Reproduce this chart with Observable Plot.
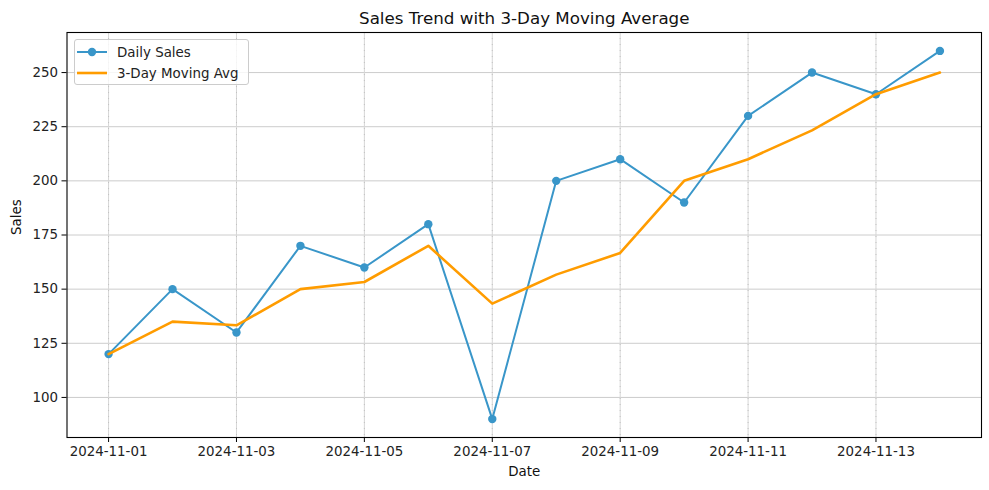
<!DOCTYPE html>
<html><head><meta charset="utf-8">
<script src="https://cdn.jsdelivr.net/npm/d3@7"></script>
<script src="https://cdn.jsdelivr.net/npm/@observablehq/plot@0.6"></script>
<style>
body{margin:0;background:#fff;font-family:"DejaVu Sans",sans-serif;}
#wrap{position:relative;width:989px;height:490px;}
#legend{position:absolute;left:74px;top:39px;width:175px;height:46px;border:1px solid #cccccc;border-radius:3px;background:rgba(255,255,255,0.8);font-size:13.4px;color:#222;box-sizing:border-box;}
#legend .row{position:absolute;left:0;height:20px;display:flex;align-items:center;}
#legend svg{margin-left:2px;margin-right:10px;}
</style></head>
<body><div id="wrap"><div id="chart"></div><div id="legend"></div></div>
<script>
const dates = ["2024-11-01","2024-11-02","2024-11-03","2024-11-04","2024-11-05","2024-11-06","2024-11-07","2024-11-08","2024-11-09","2024-11-10","2024-11-11","2024-11-12","2024-11-13","2024-11-14"];
const dailySales = [120,150,130,170,160,180,90,200,210,190,230,250,240,260];
const movingAvg = [120,135,133.3,150,153.3,170,143.3,156.7,166.7,200,210,223.3,240,250];
const xTicks = ["2024-11-01","2024-11-03","2024-11-05","2024-11-07","2024-11-09","2024-11-11","2024-11-13"];
const yTicks = [100,125,150,175,200,225,250];
const seriesNames = ["Daily Sales","3-Day Moving Avg"];
const blue = "#3996c9", orange = "#ff9c00";

const parse = d3.utcParse("%Y-%m-%d");
const data = dates.map((d,i)=>({date:parse(d), sales:dailySales[i], avg:movingAvg[i]}));
const xt = xTicks.map(parse);
const x0 = parse(dates[0]), x1 = parse(dates[dates.length-1]);
const pad = (x1-x0)*0.05;
const ymin = d3.min(dailySales), ymax = d3.max(dailySales), yp=(ymax-ymin)*0.05;

const plot = Plot.plot({
  width:989, height:490,
  marginLeft:66.5, marginRight:8, marginTop:32, marginBottom:53,
  style:{fontFamily:"DejaVu Sans, sans-serif", fontSize:"13.4px", color:"#222", background:"#fff"},
  x:{type:"utc", domain:[new Date(+x0-pad), new Date(+x1+pad)]},
  y:{domain:[ymin-yp, ymax+yp]},
  marks:[
    Plot.gridY(yTicks,{stroke:"#cccccc", strokeOpacity:1, strokeWidth:1}),
    Plot.gridX(xt,{stroke:"#d6d6d6", strokeOpacity:1, strokeWidth:1}),
    Plot.gridX(xt,{stroke:"#c2c2c2", strokeOpacity:1, strokeWidth:1, strokeDasharray:"1,5"}),
    Plot.line(data,{x:"date", y:"sales", stroke:blue, strokeWidth:2}),
    Plot.dot(data,{x:"date", y:"sales", fill:blue, r:4.2, stroke:null}),
    Plot.line(data,{x:"date", y:"avg", stroke:orange, strokeWidth:2.6}),
    Plot.frame({stroke:"black", strokeWidth:1.1}),
    Plot.axisX(xt,{tickFormat:d3.utcFormat("%Y-%m-%d"), tickSize:5, tickPadding:4, label:null, stroke:"black"}),
    Plot.axisY(yTicks,{tickSize:5, tickPadding:4, label:null, stroke:"black"}),
    Plot.text(["Sales Trend with 3-Day Moving Average"],{frameAnchor:"top", dy:-14, fontSize:16.7, fill:"#111", lineAnchor:"middle"}),
    Plot.text(["Date"],{frameAnchor:"bottom", dy:34, fontSize:13.4, fill:"#111", lineAnchor:"middle"}),
    Plot.text(["Sales"],{frameAnchor:"left", dx:-50, rotate:-90, fontSize:13.4, fill:"#111", lineAnchor:"middle"})
  ]
});
document.getElementById("chart").appendChild(plot);

const leg = document.getElementById("legend");
const rows = [
  `<svg width="30" height="10"><line x1="0" y1="5" x2="30" y2="5" stroke="${blue}" stroke-width="2"/><circle cx="15" cy="5" r="4.2" fill="${blue}"/></svg>`,
  `<svg width="30" height="10"><line x1="0" y1="5" x2="30" y2="5" stroke="${orange}" stroke-width="2.6"/></svg>`
];
seriesNames.forEach((n,i)=>{
  const r=document.createElement("div"); r.className="row"; r.style.top=(2+i*21)+"px";
  r.innerHTML=rows[i]+`<span>${n}</span>`; leg.appendChild(r);
});
</script></body></html>
